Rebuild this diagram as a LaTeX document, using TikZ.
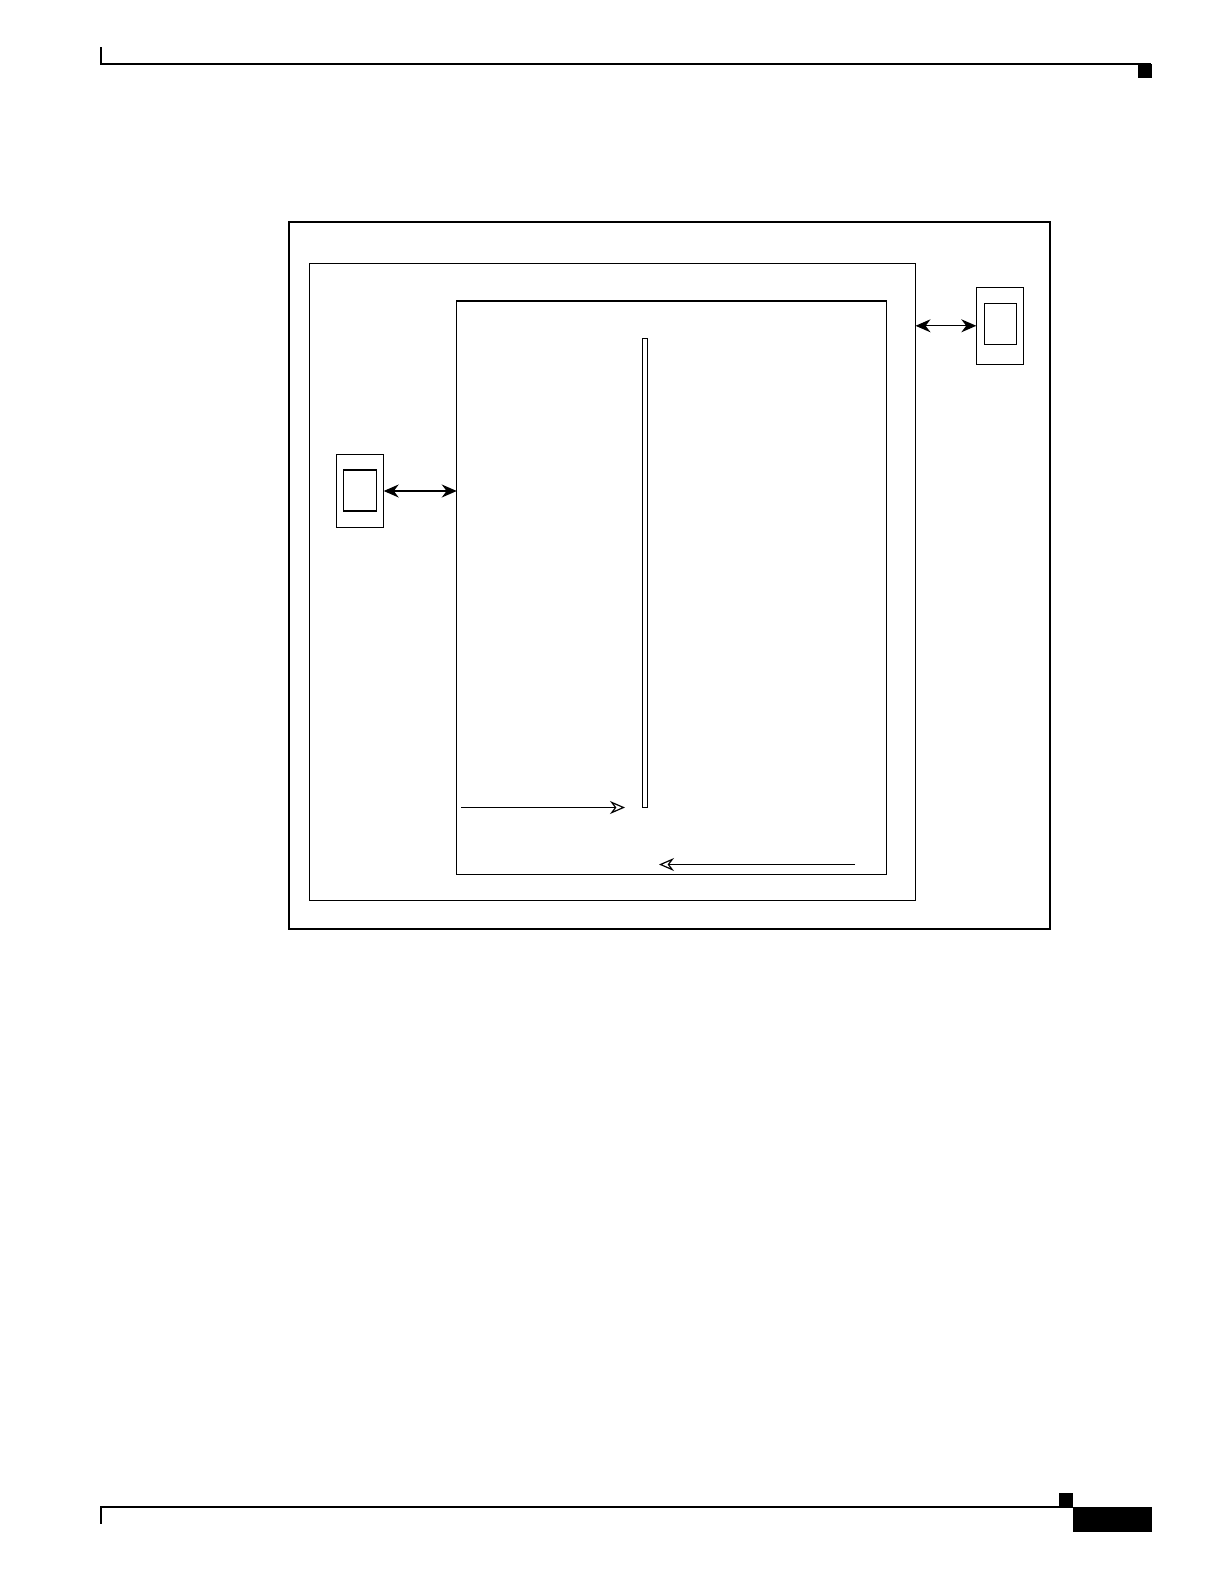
\documentclass[tikz,border=0pt]{standalone}
\usepackage{tikz}
\usetikzlibrary{arrows.meta}

\tikzset{
  box/.style={draw, line width=0.6pt, inner sep=0pt, outer sep=0pt},
  biarrow/.style={{Stealth[length=7.5bp,width=6.5bp]}-{Stealth[length=7.5bp,width=6.5bp]}, line width=0.6pt},
  openarrow/.style={-{Stealth[open,length=7.5bp,width=6.5bp]}, line width=0.6pt}
}

\begin{document}
\begin{tikzpicture}[x=0.5bp,y=-0.5bp]
		\useasboundingbox (0,0) rectangle (1224,1584);
		% page header and footer
		\draw[line width=0.9pt] (101,47) -- (101,64) -- (1151,64);
		\fill (1138,64) rectangle (1152,78);
		\draw[line width=0.9pt] (1073,1507) -- (101,1507) -- (101,1524);
		\fill (1059,1493) rectangle (1073,1507);
		\fill (1073,1507) rectangle (1152,1532);
		% frames
		\node[box, minimum width=380.5bp, minimum height=353.5bp] (frame) at (669.5,575.5) {};
		\node[box, minimum width=303bp, minimum height=318.5bp] (host) at (612.5,582) {};
		\node[box, minimum width=214.75bp, minimum height=286.75bp] (core) at (671.5,587.7) {};
		\node[box, minimum width=2.5bp, minimum height=234.5bp] (bar) at (645.3,573) {};
		% devices
		\node[box, minimum width=23.7bp, minimum height=36.15bp] (ldev) at (360,491) {};
		\node[box, minimum width=16.5bp, minimum height=20.5bp] (ldevin) at (360.2,490.5) {};
		\node[box, minimum width=23.7bp, minimum height=38.5bp] (rdev) at (1000,325.8) {};
		\node[box, minimum width=16.2bp, minimum height=20.5bp] (rdevin) at (1000.5,323.8) {};
		% links
		\draw[biarrow] (ldev.east) -- (ldev.east -| core.west);
		\draw[biarrow] (host.east |- rdev.west) -- (rdev.west);
		\coordinate (inA) at (461,807.5);
		\coordinate (inB) at (625,807.5);
		\coordinate (outA) at (855,864.5);
		\coordinate (outB) at (659,864.5);
		\draw[openarrow] (inA) -- (inB);
		\draw[openarrow] (outA) -- (outB);
\end{tikzpicture}
\end{document}
